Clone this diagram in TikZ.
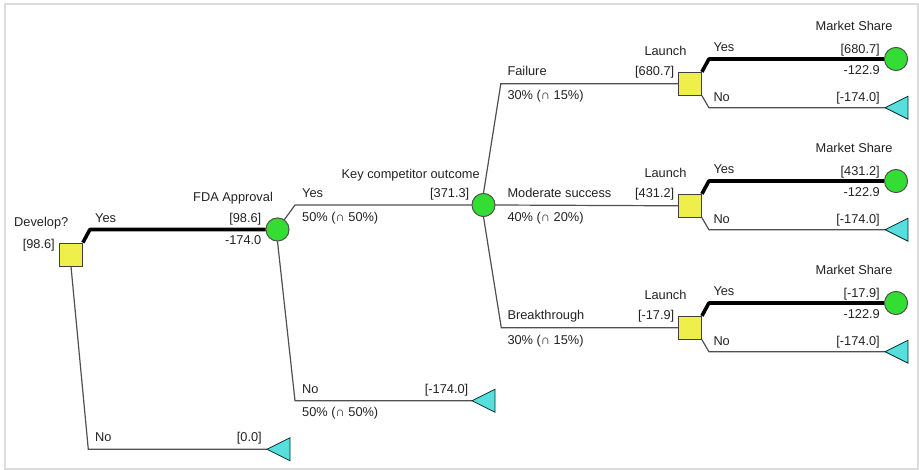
\documentclass[tikz,border=0pt]{standalone}
\usepackage{fontspec}
\setmainfont{Liberation Sans}
\usetikzlibrary{calc}

\definecolor{decfill}{HTML}{EFEF4C}
\definecolor{chancefill}{HTML}{33DD33}
\definecolor{leaffill}{HTML}{58DEDC}
\definecolor{branchgray}{HTML}{505050}
\definecolor{framegray}{HTML}{DCDCDC}
\definecolor{txt}{HTML}{222222}

\tikzset{
  decision/.style={rectangle, draw=black!75, line width=0.8pt, fill=decfill,
                   minimum size=23pt, inner sep=0pt},
  chance/.style={circle, draw=black!70, line width=0.8pt, fill=chancefill,
                 minimum size=23pt, inner sep=0pt},
  leaf/.style={draw=black!60!teal, line width=0.8pt, fill=leaffill},
  branch/.style={draw=branchgray, line width=1.2pt},
  optimal/.style={draw=black, line width=3.6pt, line join=round},
  lbl/.style={text=txt, inner sep=0pt, yshift=-1.5pt, font=\fontsize{12.8}{14}\selectfont},
  lw/.style={lbl, anchor=mid west},
  le/.style={lbl, anchor=mid east},
}
% terminal node: triangle whose tip sits on the named coordinate
\newcommand{\leaftri}[1]{\draw[leaf] (#1) -- ++(23,-11.5) -- ++(0,23) -- cycle;}

\begin{document}
\begin{tikzpicture}[x=1pt, y=-1pt]
\useasboundingbox (0,0) rectangle (919,470);
\draw[framegray, line width=2pt] (5,4) rectangle (918,469);

% ---------- node positions ----------
\node[decision] (d0) at (71,254.5) {};
\node[chance]   (c1) at (277.5,229.5) {};
\node[chance]   (c2) at (483.5,205) {};
\coordinate (t0) at (267,449.3);
\coordinate (t1) at (472,400.7);

\foreach \i/\dy in {1/0, 2/122, 3/244} {
  \node[decision] (l\i) at (690,{83.8+\dy}) {};
  \node[chance]   (m\i) at (896,{59+\dy}) {};
  \coordinate (n\i) at (885,{107.7+\dy});
}

% ---------- bend points of the branches ----------
\coordinate (dx)  at ($(d0.north east)+(7,0)$);
\coordinate (dnx) at ($(d0.south)+(17.3,0)$);
\coordinate (cx)  at ($(c1)+(17.5,0)$);
\coordinate (kx1) at ($(c2)+(17.3,0)$);
\coordinate (kx3) at ($(c2)+(17.8,0)$);
\foreach \i in {1,2,3} { \coordinate (lx\i) at ($(l\i.east)+(7,0)$); }

% ---------- connectors ----------
% Develop?
\draw[optimal] (d0.north east) -- (dx |- c1) -- (c1.west);
\draw[branch] (d0.south) -- (dnx |- t0) -- (t0);
% FDA Approval
\draw[branch] (c1.55) -- (cx |- c2) -- (c2.west);
\draw[branch] (c1.south) -- (cx |- t1) -- (t1);
% Key competitor outcome
\draw[branch] (c2.north) -- (kx1 |- l1) -- (l1.west);
\draw[branch] (c2.east) -- (l2.west);
\draw[branch] (c2.south) -- (kx3 |- l3) -- (l3.west);
% Launch decisions
\foreach \i in {1,2,3} {
  \draw[optimal] (l\i.north east) -- (lx\i |- m\i) -- (m\i.west);
  \draw[branch] (l\i.south east) -- (lx\i |- n\i) -- (n\i);
}

% terminal triangles (drawn after connectors)
\leaftri{t0}
\leaftri{t1}
\foreach \i in {1,2,3} { \leaftri{n\i} }
% redraw symbols on top of connector ends
\node[decision] at (d0) {};
\node[chance] at (c1) {};
\node[chance] at (c2) {};
\foreach \i in {1,2,3} { \node[decision] at (l\i) {}; \node[chance] at (m\i) {}; }

% ---------- labels ----------
\node[lw] (dev) at (14,222) {Develop?};
\node[le] (devv) at (55,244) {[98.6]};
\node[lw] (dyes) at (95,218) {Yes};
\node[lw] (dno) at (95,437.3) {No};
\node[le] (dnov) at (262,437.3) {[0.0]};

\node[lw] (fda) at (193,197.3) {FDA Approval};
\node[le] (fdav) at (261.5,218.3) {[98.6]};
\node[le] (fdac) at (261.5,240.7) {-174.0};
\node[lw] (fyes) at (302,193.3) {Yes};
\node[lw] (fyesp) at (302,217.3) {50\% (∩ 50\%)};
\node[lw] (fno) at (302,389.3) {No};
\node[lw] (fnop) at (302,412.7) {50\% (∩ 50\%)};
\node[le] (fnov) at (468.5,389.3) {[-174.0]};

\node[lw] (kco) at (341.5,174) {Key competitor outcome};
\node[le] (kcov) at (469.5,193.3) {[371.3]};

\node[lw] (o1) at (507.3,71) {Failure};
\node[lw] (o1p) at (507.3,95) {30\% (∩ 15\%)};
\node[lw] (o2) at (507.3,193) {Moderate success};
\node[lw] (o2p) at (507.3,217) {40\% (∩ 20\%)};
\node[lw] (o3) at (507.3,315) {Breakthrough};
\node[lw] (o3p) at (507.3,340) {30\% (∩ 15\%)};

\foreach \i/\dy/\v in {1/0/680.7, 2/122/431.2, 3/244/-17.9} {
  \node[lw] (ln\i) at (644.3,{51.7+\dy}) {Launch};
  \node[le] (lv\i) at (674.5,{71+\dy}) {[\v]};
  \node[le] (ms\i) at (892.7,{26.7+\dy}) {Market Share};
  \node[lw] (ly\i) at (713.3,{47.3+\dy}) {Yes};
  \node[le] (lyv\i) at (880,{49.3+\dy}) {[\v]};
  \node[le] (lyc\i) at (880,{70+\dy}) {-122.9};
  \node[lw] (lno\i) at (713.3,{97.3+\dy}) {No};
  \node[le] (lnov\i) at (880,{97.3+\dy}) {[-174.0]};
}
\end{tikzpicture}
\end{document}
